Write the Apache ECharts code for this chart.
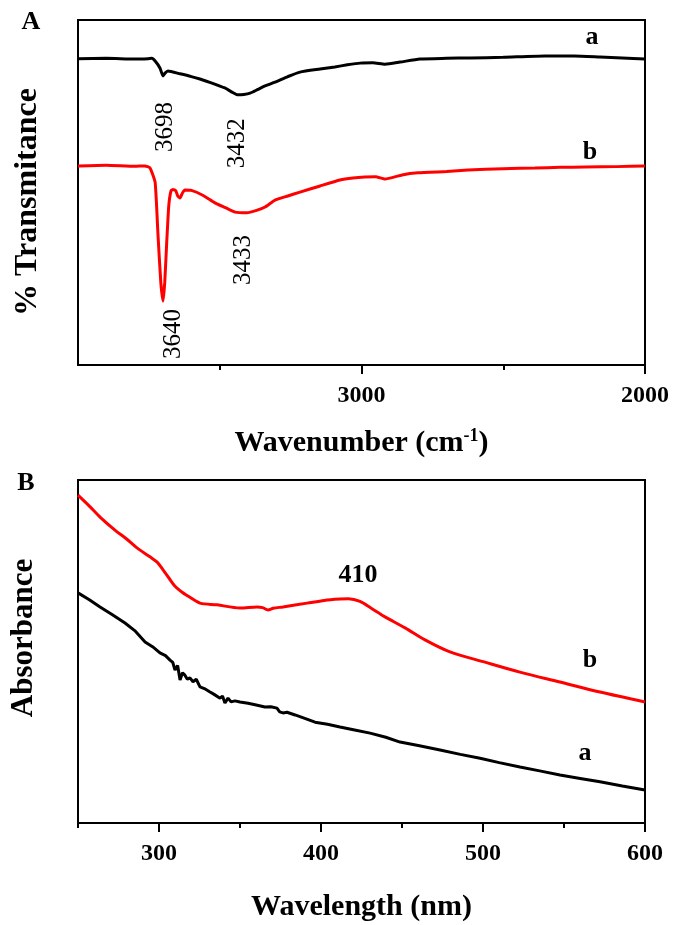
<!DOCTYPE html>
<html>
<head>
<meta charset="utf-8">
<script src="https://cdn.jsdelivr.net/npm/echarts@6/dist/echarts.min.js"></script>
<style>
  html, body { margin: 0; padding: 0; background: #fff; }
  #chart { width: 675px; height: 925px; }
</style>
</head>
<body>
<div id="chart"></div>
<script>
// ---- panel A: FTIR ----
var irWaveBlack = [4000, 3900, 3800, 3753, 3740, 3728, 3711, 3700, 3693, 3683, 3640, 3600, 3570, 3530, 3482, 3455, 3436, 3415, 3393, 3365, 3340, 3305, 3260, 3217, 3146, 3094, 3050, 3005, 2960, 2917, 2864, 2794, 2700, 2617, 2500, 2353, 2250, 2159, 2080, 2000];
var irTransBlack = [88.8, 88.9, 88.7, 88.8, 88.9, 88.1, 86.1, 83.8, 84.6, 85.2, 84.4, 83.6, 82.9, 81.8, 80.3, 79.0, 78.3, 78.4, 78.8, 79.9, 80.9, 82.0, 83.6, 84.9, 85.8, 86.4, 87.0, 87.5, 87.6, 87.2, 87.8, 88.7, 88.9, 89.0, 89.2, 89.6, 89.6, 89.3, 89.0, 88.7];

var irWaveRed = [4000, 3900, 3800, 3764, 3746, 3728, 3718, 3708, 3700, 3694, 3688, 3680, 3672, 3665, 3655, 3648, 3640, 3632, 3623, 3600, 3560, 3517, 3480, 3446, 3404, 3370, 3340, 3305, 3260, 3217, 3146, 3076, 3030, 2988, 2950, 2917, 2857, 2801, 2700, 2624, 2500, 2388, 2300, 2212, 2100, 2000];
var irTransRed = [57.7, 57.9, 57.6, 57.7, 57.1, 53.0, 38.0, 24.0, 18.5, 24.0, 34.0, 46.0, 50.5, 50.9, 50.5, 49.0, 48.4, 49.8, 50.7, 50.6, 49.2, 47.0, 45.6, 44.3, 44.1, 44.8, 45.8, 47.8, 49.0, 50.1, 51.9, 53.6, 54.2, 54.5, 54.6, 53.9, 55.1, 55.7, 56.1, 56.5, 56.9, 57.1, 57.3, 57.4, 57.5, 57.7];

var irMajorTicks = [3000, 2000];
var irMinorTicks = [3500, 2500];

// ---- panel B: UV-vis ----
var uvWaveBlack = [250, 257, 263.6, 271, 279.0, 285, 291.4, 296, 300.6, 304, 306.8, 308.5, 309.9, 311.5, 313.0, 314.5, 316.0, 317.5, 319.1, 321, 323, 325.3, 328, 331.5, 334, 337.7, 339.2, 340.7, 342.6, 344.5, 346.9, 350.0, 355, 360, 365.4, 369, 372.8, 374.5, 376.5, 379, 384.0, 390, 396.3, 404, 411.7, 420, 430.3, 440, 448.8, 460, 473.5, 486, 498.2, 510, 522.8, 535, 547.5, 560, 572.2, 586, 600];
var uvAbsBlack = [67.1, 65.1, 63.0, 60.8, 58.3, 56.1, 52.8, 51.4, 49.6, 48.8, 47.5, 46.8, 44.6, 45.9, 41.7, 43.8, 43.1, 41.9, 42.3, 41.2, 41.9, 39.7, 39.2, 38.2, 37.5, 36.4, 37.0, 35.0, 36.4, 35.3, 35.6, 35.3, 34.9, 34.4, 33.8, 33.9, 33.5, 32.4, 32.1, 32.3, 31.5, 30.5, 29.4, 28.8, 28.0, 27.2, 26.2, 25.0, 23.6, 22.6, 21.3, 20.0, 18.9, 17.6, 16.3, 15.2, 14.0, 13.0, 12.0, 10.8, 9.6];

var uvWaveRed = [250, 257, 263.6, 272.8, 280, 286.4, 294.4, 299, 302.5, 306, 309.9, 314.5, 319.1, 325.3, 335.8, 350.0, 360.5, 364, 367.3, 370.5, 376.5, 391.4, 402, 411.7, 417, 424.1, 431, 439.5, 451.9, 464.2, 479.6, 501.2, 522.8, 547.5, 572.2, 600];
var uvAbsRed = [95.6, 92.4, 89.2, 85.4, 82.8, 80.2, 77.6, 76.0, 73.8, 71.5, 69.0, 67.2, 65.8, 64.1, 63.6, 62.7, 63.0, 62.8, 62.1, 62.6, 63.0, 64.1, 64.9, 65.3, 65.4, 64.6, 62.6, 60.1, 56.9, 53.4, 49.9, 46.9, 44.0, 41.1, 38.2, 35.3];

var uvMajorTicks = [300, 400, 500, 600];
var uvMinorTicks = [250, 350, 450, 550];

// annotations: [text, x, y, rotate, bold]
var notesA = [['3698', 3693, 69.0, 90, false], ['3432', 3439, 64.3, 90, false], ['3640', 3665, 9.0, 90, false], ['3433', 3418, 30.4, 90, false], ['a', 2187, 95.1, 0, true], ['b', 2194, 61.7, 0, true]];
var notesB = [['410', 422.8, 72.3, 0, true], ['b', 566, 47.5, 0, true], ['a', 563, 20.4, 0, true]];

function zip(xs, ys) {
    return xs.map(function (x, i) { return [x, ys[i]]; });
}

var FONT = '"Liberation Serif", "Times New Roman", serif';
var chartDom = document.getElementById('chart');
var myChart = echarts.init(chartDom);

var grids = [
    { left: 78, top: 20, width: 567, height: 345 },
    { left: 78, top: 480, width: 567, height: 343 }
];
grids.forEach(function (g) {
    g.show = true;
    g.borderColor = '#000';
    g.borderWidth = 2;
    g.containLabel = false;
});

function xMain(grid, min, max, inverse, ticks, name, gap) {
    return {
        type: 'value', gridIndex: grid, min: min, max: max, inverse: inverse,
        name: name, nameLocation: 'middle', nameGap: gap,
        nameTextStyle: {
            fontFamily: FONT, fontWeight: 'bold', fontSize: 30, color: '#000',
            rich: { sup: { fontFamily: FONT, fontWeight: 'bold', fontSize: 18, color: '#000', verticalAlign: 'top', padding: [0, 0, 14, 0] } }
        },
        axisLine: { show: true, lineStyle: { color: '#000', width: 2 } },
        axisTick: { show: true, length: 9, lineStyle: { color: '#000', width: 2 }, customValues: ticks },
        axisLabel: {
            show: true, margin: 19, fontFamily: FONT, fontWeight: 'bold', fontSize: 24, color: '#000', customValues: ticks,
            formatter: function (v) { return String(v); }
        },
        splitLine: { show: false }
    };
}
function xMinor(grid, min, max, inverse, ticks) {
    return {
        type: 'value', gridIndex: grid, min: min, max: max, inverse: inverse, position: 'bottom',
        axisLine: { show: false },
        axisTick: { show: true, length: 5, lineStyle: { color: '#000', width: 2 }, customValues: ticks },
        axisLabel: { show: false },
        splitLine: { show: false }
    };
}
function yAx(grid) {
    return {
        type: 'value', gridIndex: grid, min: 0, max: 100,
        axisLine: { show: true, lineStyle: { color: '#000', width: 2 } },
        axisTick: { show: false },
        axisLabel: { show: false },
        splitLine: { show: false }
    };
}

var option = {
    animation: false,
    backgroundColor: '#fff',
    grid: grids,
    xAxis: [
        xMain(0, 2000, 4000, true, irMajorTicks, 'Wavenumber (cm{sup|-1})', 62),
        xMinor(0, 2000, 4000, true, irMinorTicks),
        xMain(1, 250, 600, false, uvMajorTicks, 'Wavelength (nm)', 69),
        xMinor(1, 250, 600, false, uvMinorTicks)
    ],
    yAxis: [yAx(0), yAx(1)],
    series: [
        { type: 'line', xAxisIndex: 0, yAxisIndex: 0, data: zip(irWaveBlack, irTransBlack), showSymbol: false, smooth: 0.2, lineStyle: { color: '#000', width: 3 } },
        { type: 'line', xAxisIndex: 0, yAxisIndex: 0, data: zip(irWaveRed, irTransRed), showSymbol: false, smooth: 0.15, lineStyle: { color: '#ff0000', width: 3 } },
        { type: 'line', xAxisIndex: 2, yAxisIndex: 1, data: zip(uvWaveBlack, uvAbsBlack), showSymbol: false, lineStyle: { color: '#000', width: 3 } },
        { type: 'line', xAxisIndex: 2, yAxisIndex: 1, data: zip(uvWaveRed, uvAbsRed), showSymbol: false, smooth: 0.3, lineStyle: { color: '#ff0000', width: 3 } }
    ]
};
myChart.setOption(option);

// place the peak labels from data coordinates
var graphics = [];
function addNotes(notes, gridIndex) {
    notes.forEach(function (n) {
        var p = myChart.convertToPixel({ gridIndex: gridIndex }, [n[1], n[2]]);
        graphics.push({
            type: 'text', x: p[0], y: p[1], rotation: n[3] * Math.PI / 180,
            style: {
                text: n[0], fontFamily: FONT, fontSize: n[4] ? 26 : 25,
                fontWeight: n[4] ? 'bold' : 'normal', fill: '#000',
                align: 'center', verticalAlign: 'middle'
            }
        });
    });
}
addNotes(notesA, 0);
addNotes(notesB, 1);

function label(text, x, y, size, rot) {
    graphics.push({
        type: 'text', x: x, y: y, rotation: rot,
        style: { text: text, fontFamily: FONT, fontSize: size, fontWeight: 'bold', fill: '#000', align: 'center', verticalAlign: 'middle' }
    });
}
label('A', 31, 22, 26, 0);
label('B', 26, 483, 26, 0);
label('% Transmitance', 28, 202, 32, Math.PI / 2);
label('Absorbance', 24, 638, 31, Math.PI / 2);
myChart.setOption({ graphic: graphics });
</script>
</body>
</html>
